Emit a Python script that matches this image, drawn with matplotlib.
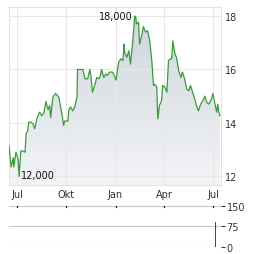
import numpy as np
import pandas as pd
import matplotlib
matplotlib.use("Agg")
import matplotlib.pyplot as plt
import matplotlib.dates as mdates

# Kursverlauf
dates = ["2023-06-16", "2023-06-20", "2023-06-24", "2023-06-25", "2023-06-29", "2023-07-03",
         "2023-07-05", "2023-07-08", "2023-07-12", "2023-07-16", "2023-07-18", "2023-07-21",
         "2023-07-23", "2023-07-27", "2023-07-31", "2023-08-03", "2023-08-07", "2023-08-12",
         "2023-08-16", "2023-08-20", "2023-08-24", "2023-08-28", "2023-08-31", "2023-09-02",
         "2023-09-06", "2023-09-11", "2023-09-17", "2023-09-20", "2023-09-24", "2023-09-26",
         "2023-09-28", "2023-10-04", "2023-10-06", "2023-10-09", "2023-10-13", "2023-10-17",
         "2023-10-21", "2023-10-22", "2023-11-01", "2023-11-05", "2023-11-10", "2023-11-14",
         "2023-11-16", "2023-11-19", "2023-11-23", "2023-11-27", "2023-12-01", "2023-12-04",
         "2023-12-06", "2023-12-10", "2023-12-14", "2023-12-17", "2023-12-21", "2023-12-27",
         "2024-01-02", "2024-01-04", "2024-01-07", "2024-01-11", "2024-01-15", "2024-01-17",
         "2024-01-18", "2024-01-22", "2024-01-26", "2024-01-29", "2024-02-02", "2024-02-06",
         "2024-02-08", "2024-02-09", "2024-02-13", "2024-02-15", "2024-02-19", "2024-02-22",
         "2024-02-26", "2024-03-01", "2024-03-05", "2024-03-09", "2024-03-12", "2024-03-14",
         "2024-03-18", "2024-03-20", "2024-03-23", "2024-03-27", "2024-03-29", "2024-04-02",
         "2024-04-06", "2024-04-09", "2024-04-13", "2024-04-15", "2024-04-17", "2024-04-21",
         "2024-04-24", "2024-04-28", "2024-05-02", "2024-05-05", "2024-05-09", "2024-05-13",
         "2024-05-17", "2024-05-20", "2024-05-24", "2024-05-28", "2024-06-01", "2024-06-04",
         "2024-06-08", "2024-06-12", "2024-06-16", "2024-06-19", "2024-06-23", "2024-06-27",
         "2024-07-01", "2024-07-04", "2024-07-08", "2024-07-10", "2024-07-12", "2024-07-14"]
prices = [13.15, 12.35, 12.7, 12.35, 12.9, 12.65,
          12.0, 12.95, 12.95, 12.9, 13.6, 13.7,
          14.03, 14.03, 13.96, 13.78, 14.15, 14.4,
          14.27, 14.35, 14.8, 14.5, 14.65, 14.2,
          14.97, 15.1, 14.97, 14.65, 14.2, 13.9,
          14.07, 14.07, 14.5, 14.6, 14.45, 14.6,
          14.97, 16.0, 16.0, 15.65, 15.65, 16.0,
          15.77, 15.15, 15.4, 15.7, 15.65, 15.8,
          16.0, 15.7, 15.83, 15.78, 15.9, 15.9,
          15.6, 15.9, 16.27, 16.4, 16.33, 16.95,
          16.65, 16.45, 16.7, 16.2, 17.0, 18.0,
          17.95, 17.7, 17.77, 16.95, 17.27, 17.6,
          17.4, 17.45, 17.07, 16.27, 15.4, 15.45,
          15.35, 14.15, 14.65, 14.83, 15.4, 15.35,
          15.15, 16.33, 16.4, 16.4, 17.07, 16.58,
          16.45, 15.95, 15.7, 15.9, 15.65, 15.27,
          15.2, 15.4, 15.15, 14.9, 14.6, 14.45,
          14.7, 14.83, 15.0, 14.78, 14.7, 14.83,
          15.1, 14.78, 14.4, 14.7, 14.4, 14.27]

vol_dates = ["2024-07-06"]
vol_values = [90]

tick_dates = ["2023-07-01", "2023-10-01", "2024-01-01", "2024-04-01", "2024-07-01"]
tick_labels = ["Jul", "Okt", "Jan", "Apr", "Jul"]
price_ticks = [12, 14, 16, 18]
vol_ticks = [0, 75, 150]

x = mdates.date2num(pd.to_datetime(dates))
y = np.array(prices)
xt = mdates.date2num(pd.to_datetime(tick_dates))
xmin = mdates.date2num(pd.Timestamp("2023-06-16"))
xmax = mdates.date2num(pd.Timestamp("2024-07-16"))
ymin, ymax = 11.68, 18.34

txt = "#333333"
fig = plt.figure(figsize=(2.64, 2.55), dpi=100)
ax = fig.add_axes([0.034, 0.271, 0.803, 0.698])

# Verlaufsfüllung unter der Linie
poly = ax.fill_between(x, y, ymin, color="none")
grad = np.linspace(0, 1, 256).reshape(-1, 1)
cmap = matplotlib.colors.LinearSegmentedColormap.from_list("g", ["#f3f4f6", "#cfd6de"])
im = ax.imshow(grad, cmap=cmap, aspect="auto", origin="lower",
               extent=[xmin, xmax, ymin, 18.0], zorder=1)
im.set_clip_path(poly.get_paths()[0], transform=ax.transData)
ax.plot(x, y, color="#3a9a3a", lw=0.9, zorder=3)

ax.set_xlim(xmin, xmax)
ax.set_ylim(ymin, ymax)
ax.set_xticks(xt)
ax.set_xticklabels(tick_labels)
ax.set_yticks(price_ticks)
ax.yaxis.tick_right()
ax.tick_params(axis="both", length=0, labelsize=7, colors=txt, pad=3)
ax.grid(color="#e8e8e8", lw=0.8, zorder=0)
for s in ax.spines.values():
    s.set_color("#e3e3e3")
    s.set_linewidth(0.8)

imax = int(np.argmax(y))
imin = int(np.argmin(y))
ax.text(x[imax] - 4, y[imax], "18,000", ha="right", va="center", fontsize=7, color="#111111")
ax.text(x[imin] + 4, y[imin] + 0.05, "12,000", ha="left", va="center", fontsize=7, color="#111111")

# Volumen
vx = mdates.date2num(pd.to_datetime(vol_dates))
axv = fig.add_axes([0.034, 0.027, 0.803, 0.165])
axv.bar(vx, vol_values, width=2.6, color="#008000", linewidth=0, zorder=3)
axv.set_xlim(xmin, xmax)
axv.set_ylim(-2, 153)
axv.set_yticks(vol_ticks)
axv.yaxis.tick_right()
axv.grid(axis="y", color="#c8c8c8", lw=0.8)
for t in xt:
    axv.plot([t, t], [150, 146], color="#222222", lw=0.9, zorder=4)
axv.tick_params(axis="x", bottom=False, labelbottom=False)
axv.tick_params(axis="y", length=3, color="#333333", labelsize=7, colors=txt, pad=1)
for s in axv.spines.values():
    s.set_visible(False)
axv.set_facecolor("none")

fig.savefig("out.png", dpi=100)
